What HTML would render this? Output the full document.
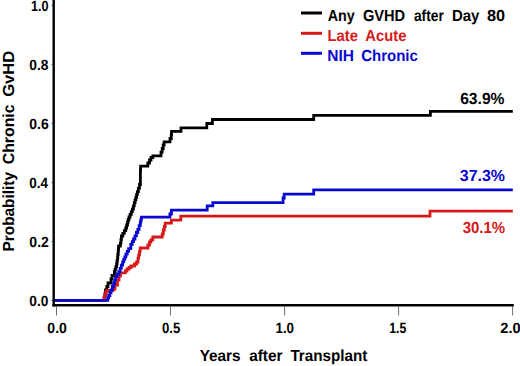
<!DOCTYPE html>
<html><head><meta charset="utf-8"><style>
html,body{margin:0;padding:0;background:#fff;}
svg{display:block;}
text{font-family:"Liberation Sans",sans-serif;font-weight:bold;text-rendering:geometricPrecision;}
</style></head><body>
<svg width="520" height="366" viewBox="0 0 520 366">
<rect width="520" height="366" fill="#fff"/>
<g stroke="#707070" stroke-width="1"><line x1="56.5" y1="306.5" x2="56.5" y2="315.5" /><line x1="170.5" y1="306.5" x2="170.5" y2="315.5" /><line x1="284.6" y1="306.5" x2="284.6" y2="315.5" /><line x1="398.6" y1="306.5" x2="398.6" y2="315.5" /><line x1="512.6" y1="306.5" x2="512.6" y2="315.5" /><line x1="51.2" y1="300.4" x2="53" y2="300.4" stroke="#999" /><line x1="51.2" y1="241.4" x2="53" y2="241.4" stroke="#999" /><line x1="51.2" y1="182.4" x2="53" y2="182.4" stroke="#999" /><line x1="51.2" y1="123.4" x2="53" y2="123.4" stroke="#999" /><line x1="51.2" y1="64.4" x2="53" y2="64.4" stroke="#999" /><line x1="51.2" y1="5.4" x2="53" y2="5.4" stroke="#999" /></g>
<text x="500.3" y="333.2" font-size="14.8" textLength="20.4" lengthAdjust="spacingAndGlyphs">2.0</text>
<text x="327.67" y="20.90" font-size="16" fill="#000" textLength="27.06" lengthAdjust="spacingAndGlyphs">Any</text>
<text x="362.92" y="20.90" font-size="16" fill="#000" textLength="42.25" lengthAdjust="spacingAndGlyphs">GVHD</text>
<text x="413.95" y="20.90" font-size="16" fill="#000" textLength="29.85" lengthAdjust="spacingAndGlyphs">after</text>
<text x="451.92" y="20.90" font-size="16" fill="#000" textLength="27.56" lengthAdjust="spacingAndGlyphs">Day</text>
<text x="486.95" y="20.90" font-size="16" fill="#000" textLength="18.06" lengthAdjust="spacingAndGlyphs">80</text>
<text x="327.40" y="41.20" font-size="16" fill="#d81818" textLength="30.51" lengthAdjust="spacingAndGlyphs">Late</text>
<text x="365.32" y="41.20" font-size="16" fill="#d81818" textLength="41.03" lengthAdjust="spacingAndGlyphs">Acute</text>
<text x="327.34" y="61.20" font-size="16" fill="#0808d0" textLength="26.71" lengthAdjust="spacingAndGlyphs">NIH</text>
<text x="361.14" y="61.20" font-size="16" fill="#0808d0" textLength="56.69" lengthAdjust="spacingAndGlyphs">Chronic</text>
<text x="199.64" y="361.10" font-size="16" fill="#000" textLength="40.85" lengthAdjust="spacingAndGlyphs">Years</text>
<text x="249.20" y="361.10" font-size="16" fill="#000" textLength="33.32" lengthAdjust="spacingAndGlyphs">after</text>
<text x="290.39" y="361.10" font-size="16" fill="#000" textLength="77.03" lengthAdjust="spacingAndGlyphs">Transplant</text>
<text x="460.17" y="103.90" font-size="16" fill="#000" textLength="44.35" lengthAdjust="spacingAndGlyphs">63.9%</text>
<text x="459.80" y="181.00" font-size="16" fill="#0808d0" textLength="45.09" lengthAdjust="spacingAndGlyphs">37.3%</text>
<text x="462.68" y="233.20" font-size="16" fill="#d81818" textLength="42.51" lengthAdjust="spacingAndGlyphs">30.1%</text>
<text x="31.01" y="11.00" font-size="14.8" fill="#000" textLength="17.56" lengthAdjust="spacingAndGlyphs">1.0</text>
<text x="29.33" y="70.00" font-size="14.8" fill="#000" textLength="19.19" lengthAdjust="spacingAndGlyphs">0.8</text>
<text x="29.33" y="129.00" font-size="14.8" fill="#000" textLength="19.35" lengthAdjust="spacingAndGlyphs">0.6</text>
<text x="29.33" y="188.10" font-size="14.8" fill="#000" textLength="18.72" lengthAdjust="spacingAndGlyphs">0.4</text>
<text x="29.33" y="247.20" font-size="14.8" fill="#000" textLength="19.50" lengthAdjust="spacingAndGlyphs">0.2</text>
<text x="29.33" y="306.20" font-size="14.8" fill="#000" textLength="19.06" lengthAdjust="spacingAndGlyphs">0.0</text>
<text x="47.33" y="333.20" font-size="14.8" fill="#000" textLength="19.56" lengthAdjust="spacingAndGlyphs">0.0</text>
<text x="161.95" y="333.20" font-size="14.8" fill="#000" textLength="18.31" lengthAdjust="spacingAndGlyphs">0.5</text>
<text x="275.45" y="333.20" font-size="14.8" fill="#000" textLength="18.62" lengthAdjust="spacingAndGlyphs">1.0</text>
<text x="389.14" y="333.20" font-size="14.8" fill="#000" textLength="17.10" lengthAdjust="spacingAndGlyphs">1.5</text>
<text transform="translate(13.60,251.55) rotate(-90)" font-size="16" fill="#000" textLength="79.63" lengthAdjust="spacingAndGlyphs">Probability</text>
<text transform="translate(13.60,164.30) rotate(-90)" font-size="16" fill="#000" textLength="59.85" lengthAdjust="spacingAndGlyphs">Chronic</text>
<text transform="translate(13.60,96.80) rotate(-90)" font-size="16" fill="#000" textLength="46.09" lengthAdjust="spacingAndGlyphs">GvHD</text>
<g fill="none" stroke-width="2.8" stroke-linejoin="miter" stroke-linecap="butt">
<path d="M53.0 300.4H104.5V296.9H105.0V293.5H105.5V290.0H106.8V286.5H108.0V283.0H111.0V279.0H112.0V275.5H114.4V271.7H115.1V269.1H115.9V266.6H116.6V264.0H117.0V261.0H117.5V258.0H117.8V254.5H118.2V251.0H118.4V248.5H118.6V246.0H120.4V243.3H120.9V239.7H121.4V236.0H122.8V233.3H124.3V230.7H125.7V228.0H126.6V225.0H127.5V222.0H128.2V219.5H129.0V217.0H130.1V214.3H131.3V211.7H132.4V209.0H133.4V205.8H134.3V202.7H135.1V199.9H135.9V197.2H136.6V194.4H137.4V191.7H138.4V188.1H139.5V184.5H140.4V170.0H140.6V166.1H147.8V163.0H149.5V160.0H151.0V157.5H152.8V155.8H161.0V152.2H162.2V148.5H163.2V145.0H164.1V141.8H170.0V138.5H171.3V134.5H171.5V131.3H181.0V127.8H206.8V123.5H212.4V119.5H313.7V115.4H430.4V111.4H512.8" stroke="#000"/>
<path d="M53.0 300.4H103.8V297.6H104.8V294.8H105.8V292.0H107.0V290.5H113.0V289.0H115.0V285.0H117.5V280.0H119.0V276.0H120.4V272.8H125.3V271.0H127.0V269.0H129.0V267.5H131.0V266.0H134.5V264.0H136.6V262.0H138.0V258.2H138.7V254.8H139.5V251.4H140.2V248.0H147.9V245.0H149.5V242.0H150.9V239.8H152.8V237.0H162.2V234.0H163.3V230.0H164.3V226.5H165.2V223.2H171.4V220.1H180.8V216.1H430.0V211.2H512.8" stroke="#d81818"/>
<path d="M53.0 300.4H107.8V297.9H108.7V295.5H109.9V292.6H111.1V289.8H112.3V286.5H113.6V283.2H114.6V279.9H115.6V276.6H117.2V274.1H118.8V271.7H120.1V268.4H121.3V265.2H122.6V261.9H123.7V259.3H124.8V256.8H125.9V254.2H127.2V251.4H128.6V248.7H130.8V244.4H132.2V241.7H133.5V239.0H134.9V235.8H136.4V232.5H137.8V229.3H139.1V225.7H140.3V222.0H140.9V219.6H141.4V217.2H169.9V214.0H171.4V210.2H207.2V205.9H212.8V202.6H283.1V198.0H284.2V194.2H313.7V189.8H512.8" stroke="#0808d0"/>
</g>
<line x1="53.7" y1="0" x2="53.7" y2="306.5" stroke="#000" stroke-width="2.4"/>
<line x1="52.5" y1="305.2" x2="513.8" y2="305.2" stroke="#000" stroke-width="2.6"/>
<g stroke-width="3">
<line x1="301" y1="13" x2="322" y2="13" stroke="#000"/>
<line x1="301" y1="33.3" x2="322" y2="33.3" stroke="#d81818"/>
<line x1="301" y1="53.3" x2="322" y2="53.3" stroke="#0808d0"/>
</g>
</svg>
</body></html>
